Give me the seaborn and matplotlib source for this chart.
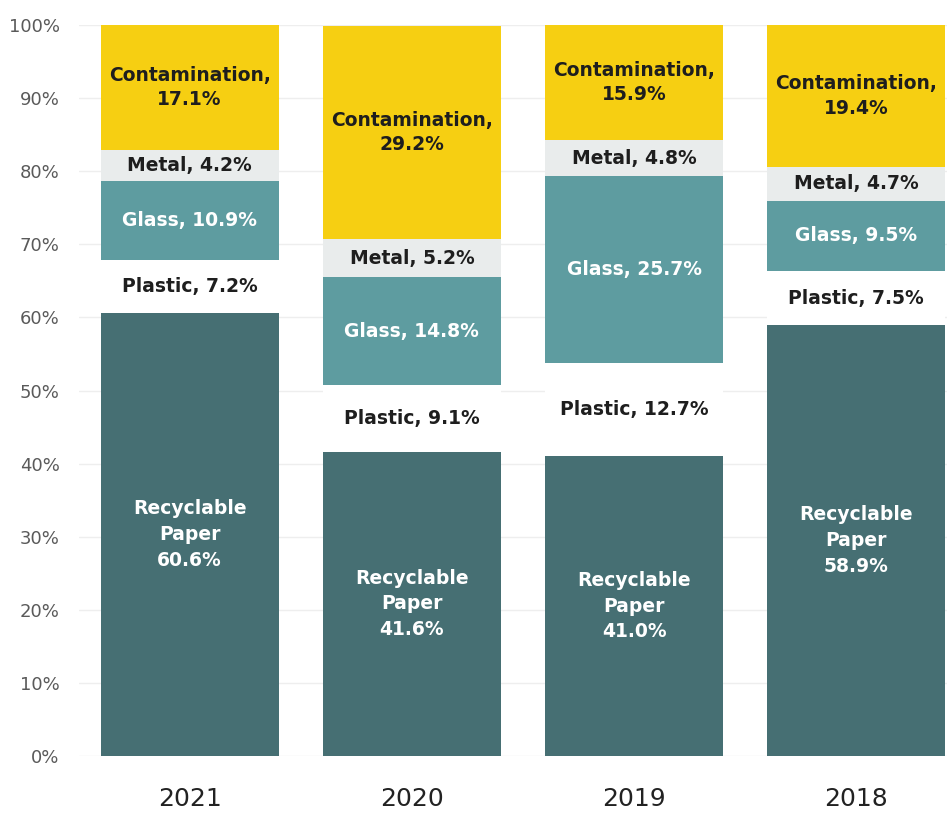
import matplotlib
matplotlib.use("Agg")
import matplotlib.pyplot as plt
import seaborn as sns
import numpy as np
import pandas as pd

# Composition of collected recyclables by year (percent of total weight)
years = ["2021", "2020", "2019", "2018"]
categories = ["Recyclable Paper", "Plastic", "Glass", "Metal", "Contamination"]
paper = [60.6, 41.6, 41.0, 58.9]
plastic = [7.2, 9.1, 12.7, 7.5]
glass = [10.9, 14.8, 25.7, 9.5]
metal = [4.2, 5.2, 4.8, 4.7]
contamination = [17.1, 29.2, 15.9, 19.4]
y_ticks = [0, 10, 20, 30, 40, 50, 60, 70, 80, 90, 100]

series = {
    "Recyclable Paper": paper,
    "Plastic": plastic,
    "Glass": glass,
    "Metal": metal,
    "Contamination": contamination,
}
colors = {
    "Recyclable Paper": "#466f73",
    "Plastic": "#ffffff",
    "Glass": "#5e9ca0",
    "Metal": "#e9ecec",
    "Contamination": "#f6cf12",
}
text_colors = {
    "Recyclable Paper": "white",
    "Plastic": "#1e1e1e",
    "Glass": "white",
    "Metal": "#1e1e1e",
    "Contamination": "#1e1e1e",
}

rows = []
for cat in categories:
    for yr, v in zip(years, series[cat]):
        rows.append({"year": yr, "category": cat, "value": v})
df = pd.DataFrame(rows)
df["top"] = df.groupby("year")["value"].cumsum()
df["bottom"] = df["top"] - df["value"]

sns.set_theme(style="white")
plt.rcParams["font.family"] = ["DejaVu Sans"]

fig = plt.figure(figsize=(9.47, 8.14), dpi=100)
ax = fig.add_axes([79 / 947, 58 / 814, 1 - 79 / 947, 731 / 814])

# Stack by overdrawing cumulative totals, topmost category first
for cat in reversed(categories):
    sub = df[df["category"] == cat]
    sns.barplot(data=sub, x="year", y="top", order=years, color=colors[cat],
                width=0.8, saturation=1, ax=ax, zorder=2, linewidth=0)

# Segment labels
for _, r in df.iterrows():
    i = years.index(r["year"])
    mid = (r["bottom"] + r["top"]) / 2
    cat = r["category"]
    if cat == "Recyclable Paper":
        txt = f"Recyclable\nPaper\n{r['value']:.1f}%"
        ls = 1.45
    elif cat == "Contamination":
        txt = f"Contamination,\n{r['value']:.1f}%"
        ls = 1.35
    else:
        txt = f"{cat}, {r['value']:.1f}%"
        ls = 1.1
    ax.text(i, mid, txt, ha="center", va="center", color=text_colors[cat],
            fontsize=13.5, fontweight="bold", linespacing=ls, zorder=3)

ax.set_xlim(-0.498, 3.408)
ax.set_ylim(0, 100)
ax.set_yticks(y_ticks)
ax.set_yticklabels([f"{t}%" for t in y_ticks], fontsize=13, color="#5a5a5a")
ax.tick_params(axis="y", length=0, pad=14)
ax.tick_params(axis="x", length=0, pad=22, labelsize=18, labelcolor="#222222")
ax.set_xlabel("")
ax.set_ylabel("")
ax.grid(axis="y", color="#eeeeee", linewidth=1, zorder=0)
ax.set_axisbelow(True)
for s in ax.spines.values():
    s.set_visible(False)

fig.savefig("out.png", dpi=100)
